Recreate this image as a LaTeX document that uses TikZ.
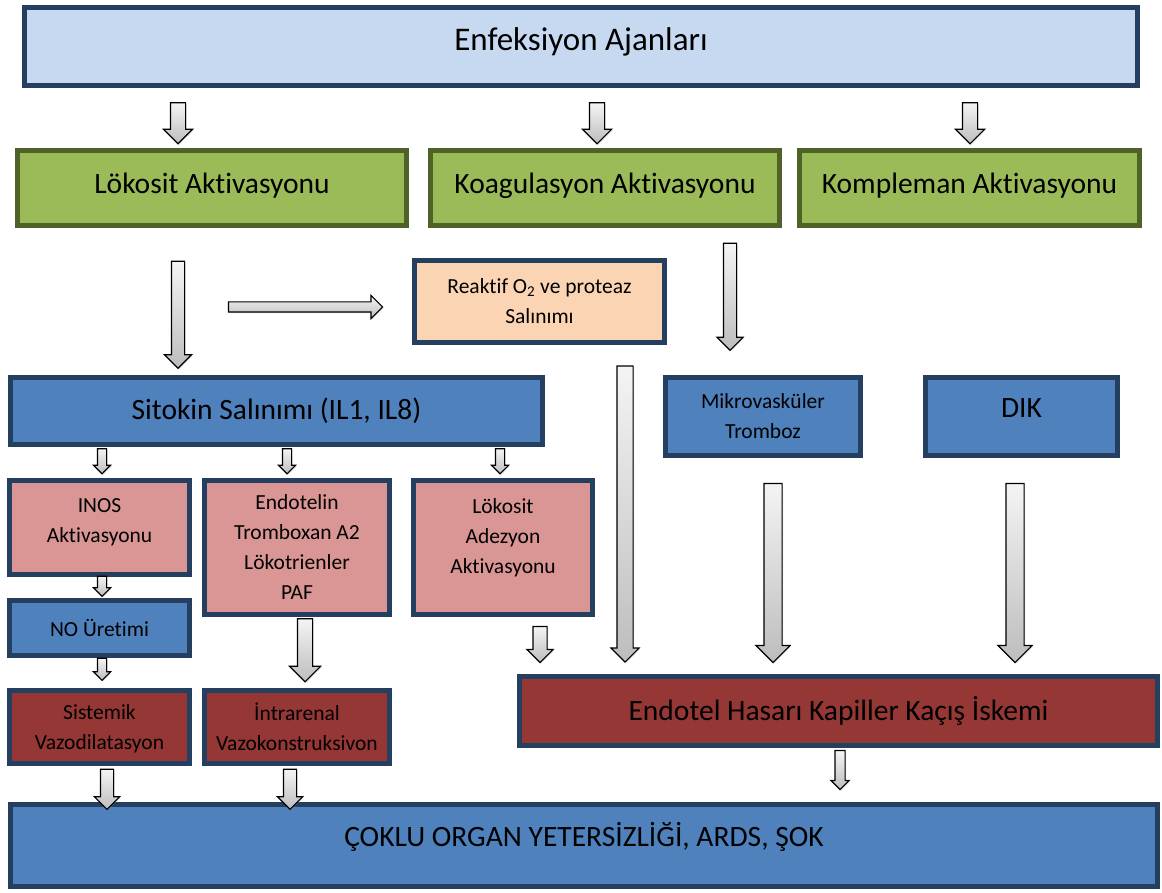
\documentclass[tikz,border=0pt]{standalone}
\usepackage{fontspec}
\setmainfont{Carlito}[Ligatures=NoCommon]
\usetikzlibrary{shapes.arrows, shadows}

\definecolor{navy}{HTML}{243F60}
\definecolor{olive}{HTML}{4F6228}
\definecolor{enffill}{HTML}{C6D9F1}
\definecolor{actfill}{HTML}{9BBB59}
\definecolor{peachfill}{HTML}{FBD4B4}
\definecolor{bluefill}{HTML}{4F81BD}
\definecolor{pinkfill}{HTML}{D99694}
\definecolor{redfill}{HTML}{953735}
\definecolor{arrtop}{HTML}{F4F4F4}
\definecolor{arrbot}{HTML}{BDBDBD}

\begin{document}
\begin{tikzpicture}[x=1pt, y=-1pt,
    box/.style={rectangle, line width=5pt, draw=navy, text=black, align=center, inner sep=0pt},
    bigtxt/.style={font=\fontsize{29.5}{35}\selectfont},
    smalltxt/.style={font=\fontsize{21.5}{30}\selectfont},
    enfbox/.style={box, fill=enffill, font=\fontsize{33}{39}\selectfont},
    actbox/.style={box, draw=olive, fill=actfill, bigtxt},
    peachbox/.style={box, fill=peachfill, smalltxt},
    bluebox/.style={box, fill=bluefill},
    pinkbox/.style={box, fill=pinkfill, smalltxt},
    redbox/.style={box, fill=redfill},
    arr/.style n args={3}{single arrow, draw=black, line width=1.1pt, inner xsep=0pt,
        inner ysep=#2/2, single arrow head extend=#3/2-#2/2,
        minimum height=#1, top color=arrtop, bottom color=arrbot,
        drop shadow={shadow xshift=1pt, shadow yshift=-1pt, opacity=.3}},
    darr/.style n args={3}{arr={#1}{#2}{#3}, rotate=-90}
]
\useasboundingbox (0,0) rectangle (1162,893);

% Enfeksiyon
\node[enfbox, minimum width=1113, minimum height=78, text depth=14pt] (enf) at (581,46.5) {Enfeksiyon Ajanları};

% Aktivasyon
\node[actbox, minimum width=389, minimum height=75, text depth=10pt] (lok) at (212,188) {Lökosit Aktivasyonu};
\node[actbox, minimum width=349, minimum height=75, text depth=10pt] (koag) at (605,188) {Koagulasyon Aktivasyonu};
\node[actbox, minimum width=340, minimum height=75, text depth=10pt] (komp) at (969.5,188) {Kompleman Aktivasyonu};

\node[peachbox, minimum width=250, minimum height=82] (reak) at (539.5,301.5) {Reaktif O\textsubscript{2} ve proteaz\\Salınımı};

% Sitokin and koagulasyon products
\node[bluebox, bigtxt, minimum width=532, minimum height=67] (sito) at (276.5,411) {Sitokin Salınımı (IL1, IL8)};
\node[bluebox, smalltxt, minimum width=195, minimum height=78] (mikro) at (763,416.5) {Mikrovasküler\\Tromboz};
\node[bluebox, bigtxt, minimum width=192, minimum height=78, text depth=16pt] (dik) at (1021.5,416.5) {DIK};

% Mediators
\node[pinkbox, minimum width=180, minimum height=94, text depth=14pt] (inos) at (99.5,527.5) {INOS\\Aktivasyonu};
\node[pinkbox, minimum width=185, minimum height=134, text depth=-5pt] (endo) at (297,547) {Endotelin\\Tromboxan A2\\Lökotrienler\\PAF};
\node[pinkbox, minimum width=179, minimum height=134, text depth=22pt] (adez) at (503,547.5) {Lökosit\\Adezyon\\Aktivasyonu};
\node[bluebox, smalltxt, minimum width=180, minimum height=55] (no) at (99.5,628) {NO Üretimi};

% Sonuclar
\node[redbox, smalltxt, minimum width=180, minimum height=73, text depth=-7pt] (sist) at (99.5,727) {Sistemik\\Vazodilatasyon};
\node[redbox, smalltxt, minimum width=185, minimum height=73, text depth=-4pt] (intra) at (297,727) {İntrarenal\\Vazokonstruksivon};
\node[redbox, bigtxt, minimum width=638, minimum height=69] (endot) at (838.5,711) {Endotel Hasarı Kapiller Kaçış İskemi};
\node[bluebox, bigtxt, minimum width=1147, minimum height=82, text depth=22pt] (coklu) at (584,845.5) {ÇOKLU ORGAN YETERSİZLİĞİ, ARDS, ŞOK};

% Block arrows
\node[darr={41}{14}{28}] (a1) at (178,119.5) {};
\node[darr={41}{14}{28}] (a2) at (597,119.5) {};
\node[darr={41}{14}{28}] (a3) at (970,119.5) {};
\node[darr={107}{12}{26}] (a4) at (178,311.5) {};
\node[arr={154}{9}{22}] (a5) at (303,307) {};
\node[darr={107}{12}{25}] (a6) at (730,293.5) {};
\node[darr={296}{15}{27}] (a7) at (625,510) {};
\node[darr={179}{17}{33}] (a8) at (773,568.5) {};
\node[darr={179}{17}{33}] (a9) at (1015,568.5) {};
\node[darr={25}{8}{16}] (s1) at (102,459) {};
\node[darr={25}{8}{16}] (s2) at (287,459) {};
\node[darr={25}{8}{16}] (s3) at (500,459) {};
\node[darr={20}{8}{16}] (a10) at (102,584) {};
\node[darr={22}{8}{16}] (a11) at (102,667) {};
\node[darr={63}{14}{30}] (a12) at (305,646.5) {};
\node[darr={36}{13}{25}] (a13) at (540,641) {};
\node[darr={39}{9}{17}] (a14) at (840,767.5) {};
\node[darr={40}{12}{24}] (a15) at (107,786) {};
\node[darr={40}{12}{24}] (a16) at (290,786) {};

\end{tikzpicture}
\end{document}
